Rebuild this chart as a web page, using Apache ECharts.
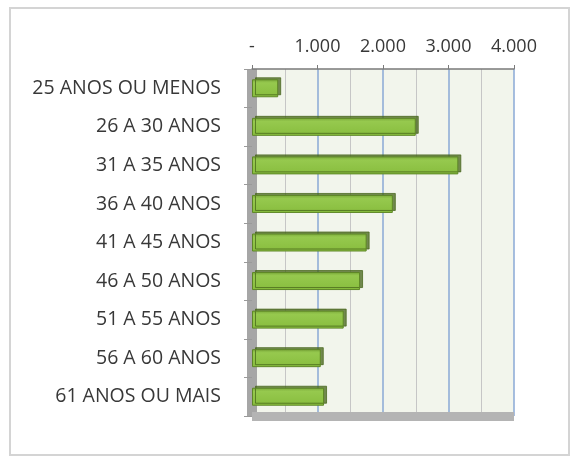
<!DOCTYPE html>
<html>
<head>
<meta charset="utf-8">
<script src="https://cdn.jsdelivr.net/npm/echarts@6/dist/echarts.min.js"></script>
<style>
  html, body { margin: 0; padding: 0; background: #fff; }
  #frame { position: absolute; left: 9px; top: 7px; width: 561px; height: 449px; border: 2px solid #d4d4d4; box-sizing: border-box; }
  #chart { width: 576px; height: 462px; }
</style>
</head>
<body>
<div id="frame"></div>
<div id="chart"></div>
<script>
  // age bands, top to bottom as in the picture
  const faixas = ['25 ANOS OU MENOS', '26 A 30 ANOS', '31 A 35 ANOS', '36 A 40 ANOS', '41 A 45 ANOS',
                  '46 A 50 ANOS', '51 A 55 ANOS', '56 A 60 ANOS', '61 ANOS OU MAIS'];
  const quantidade = [400, 2500, 3150, 2150, 1750, 1650, 1400, 1050, 1100];

  const chart = echarts.init(document.getElementById('chart'));

  const fmt = function (v) {
    if (v === 0) return '-';
    return String(v).replace(/\B(?=(\d{3})+(?!\d))/g, '.');
  };

  chart.setOption({
    animation: false,
    grid: {
      left: 252,
      right: 62,
      top: 69,
      bottom: 46,
      show: true,
      backgroundColor: '#f2f5ec',
      borderWidth: 0
    },
    xAxis: [
      {
        type: 'value',
        position: 'top',
        min: 0,
        max: 4000,
        interval: 1000,
        axisLabel: {
          formatter: fmt,
          color: '#383838',
          fontFamily: 'Open Sans',
          fontSize: 18,
          margin: 13
        },
        axisLine: { show: true, lineStyle: { color: '#7a7a7a', width: 1.5 } },
        axisTick: { show: true, length: 4, lineStyle: { color: '#7a7a7a' } },
        splitLine: { show: true, lineStyle: { color: '#8aa9d6', width: 1.5 } },
        minorTick: { show: false, splitNumber: 2 },
        minorSplitLine: { show: true, lineStyle: { color: '#c6c6c6', width: 1 } }
      },
      {
        // floor of the plot
        type: 'value',
        position: 'bottom',
        min: 0,
        max: 4000,
        axisLabel: { show: false },
        axisTick: { show: false },
        splitLine: { show: false },
        axisLine: { show: true, lineStyle: { color: '#b4b4b4', width: 9, cap: 'butt' } }
      }
    ],
    yAxis: {
      type: 'category',
      inverse: true,
      data: faixas,
      axisLabel: {
        color: '#383838',
        fontFamily: 'Open Sans',
        fontSize: 19.5,
        margin: 31
      },
      axisLine: { show: true, lineStyle: { color: '#a6a6a6', width: 10, cap: 'butt' } },
      axisTick: { show: true, length: 8, lineStyle: { color: '#9a9a9a' } }
    },
    series: [
      {
        type: 'bar',
        data: quantidade,
        barWidth: 18,
        itemStyle: {
          color: new echarts.graphic.LinearGradient(0, 0, 0, 1, [
            { offset: 0, color: '#7aa83a' },
            { offset: 0.2, color: '#96c94e' },
            { offset: 1, color: '#88bd3e' }
          ]),
          borderColor: '#5e8726',
          borderWidth: 1,
          shadowColor: 'rgba(70,100,25,0.75)',
          shadowOffsetX: 3,
          shadowOffsetY: -2,
          shadowBlur: 0
        }
      }
    ]
  });
</script>
</body>
</html>
